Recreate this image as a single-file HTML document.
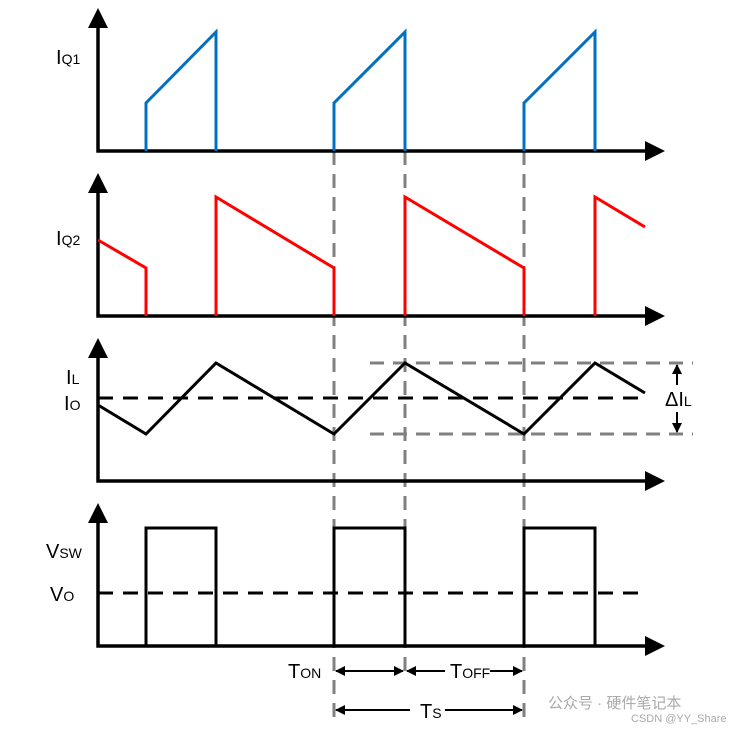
<!DOCTYPE html>
<html><head><style>body{margin:0;background:#fff}svg{display:block}text{font-family:"Liberation Sans",sans-serif;fill:#000}</style></head><body>
<svg width="756" height="733" viewBox="0 0 756 733" xmlns="http://www.w3.org/2000/svg">
<defs>
<marker id="ah" markerWidth="10" markerHeight="10" refX="9" refY="5" orient="auto" markerUnits="userSpaceOnUse"><path d="M0,0 L10,5 L0,10 z" fill="#000"/></marker>
</defs>
<g stroke="#808080" stroke-width="3" stroke-dasharray="14,9" fill="none">
<line x1="334" y1="151" x2="334" y2="720"/><line x1="405" y1="151" x2="405" y2="680"/><line x1="524" y1="151" x2="524" y2="720"/>
<line x1="370" y1="363" x2="693" y2="363"/><line x1="370" y1="434" x2="693" y2="434"/>
</g>
<g stroke="#000" stroke-width="3.5" fill="none">
<path d="M98,26 V151 H648"/><path d="M98,191 V316 H648"/><path d="M98,356 V481 H648"/><path d="M98,521 V646 H648"/>
</g>
<g fill="#000">
<path d="M88,28 L98,8 L108,28z"/><path d="M88,193 L98,173 L108,193z"/><path d="M88,358 L98,338 L108,358z"/><path d="M88,523 L98,503 L108,523z"/>
<path d="M645,141 L665,151 L645,161z"/><path d="M645,306 L665,316 L645,326z"/><path d="M645,471 L665,481 L645,491z"/><path d="M645,636 L665,646 L645,656z"/>
</g>
<g stroke="#0070C0" stroke-width="3" fill="none">
<path d="M146,151 V103 L216,32 V151"/><path d="M334,151 V103 L405,32 V151"/><path d="M524,151 V103 L595,32 V151"/>
</g>
<g stroke="#FF0000" stroke-width="3" fill="none">
<path d="M98,240 L146,268 V316"/><path d="M216,316 V197 L334,268 V316"/><path d="M405,316 V197 L524,268 V316"/><path d="M595,316 V197 L645,227"/>
</g>
<path d="M98,405 L146,434 L216,363 L334,434 L405,363 L524,434 L595,363 L645,393" stroke="#000" stroke-width="3" fill="none"/>
<g stroke="#000" stroke-width="3" stroke-dasharray="15,10" fill="none">
<line x1="98" y1="398" x2="648" y2="398"/><line x1="98" y1="593" x2="648" y2="593"/>
</g>
<path d="M98,646 H146 V528 H216 V646 H334 V528 H405 V646 H524 V528 H595 V646" stroke="#000" stroke-width="3" fill="none"/>
<g stroke="#000" stroke-width="2" fill="none">
<line x1="677" y1="385" x2="677" y2="365" marker-end="url(#ah)"/>
<line x1="677" y1="412" x2="677" y2="432" marker-end="url(#ah)"/>
<line x1="370" y1="671" x2="336" y2="671" marker-end="url(#ah)"/><line x1="370" y1="671" x2="403" y2="671" marker-end="url(#ah)"/>
<line x1="445" y1="671" x2="407" y2="671" marker-end="url(#ah)"/><line x1="490" y1="671" x2="522" y2="671" marker-end="url(#ah)"/>
<line x1="410" y1="710" x2="336" y2="710" marker-end="url(#ah)"/><line x1="445" y1="710" x2="522" y2="710" marker-end="url(#ah)"/>
</g>
<g font-size="20">
<text x="56" y="64">I<tspan font-size="14">Q1</tspan></text>
<text x="56" y="245">I<tspan font-size="14">Q2</tspan></text>
<text x="66" y="384">I<tspan font-size="14">L</tspan></text>
<text x="64" y="410">I<tspan font-size="14">O</tspan></text>
<text x="46" y="558">V<tspan font-size="14">SW</tspan></text>
<text x="50" y="601">V<tspan font-size="14">O</tspan></text>
<text x="665" y="406">ΔI<tspan font-size="14">L</tspan></text>
<text x="288" y="678">T<tspan font-size="14">ON</tspan></text>
<text x="450" y="678">T<tspan font-size="14">OFF</tspan></text>
<text x="420" y="718">T<tspan font-size="14">S</tspan></text>
</g>
<text x="548" y="708" font-size="15" style="fill:#aaa">公众号 · 硬件笔记本</text>
<text x="631" y="722" font-size="11" style="fill:#aaa">CSDN @YY_Share</text>
</svg>
</body></html>
